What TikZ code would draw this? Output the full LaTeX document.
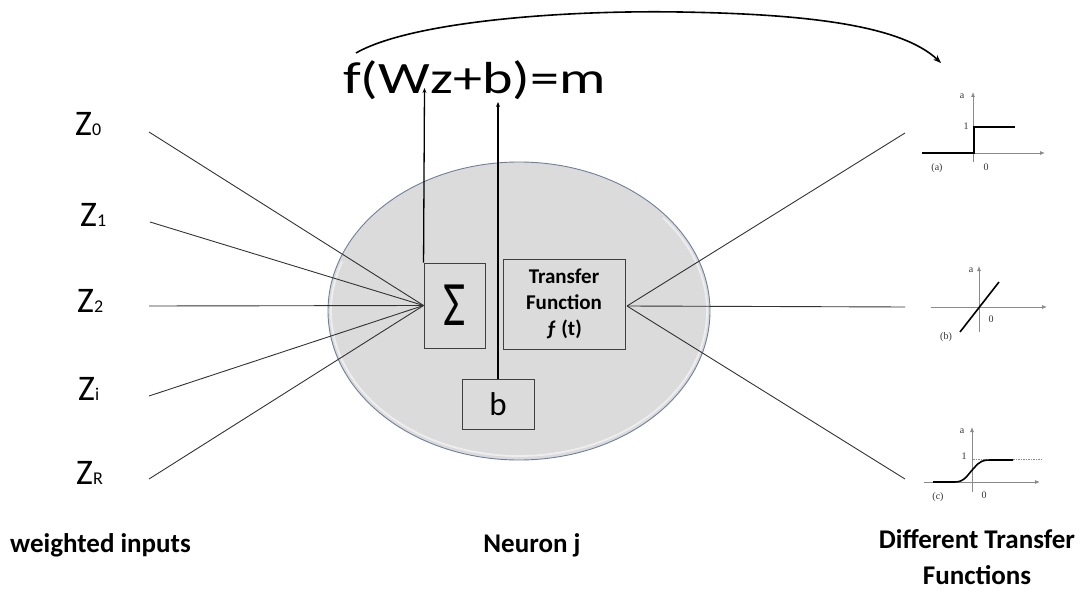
\documentclass[tikz,border=0pt]{standalone}
\usepackage{fontspec}
\usepackage{graphicx}
\setmainfont{Carlito}
\newfontfamily\grserif{Liberation Serif}
\usetikzlibrary{shapes.geometric,arrows.meta}
\definecolor{neurongray}{HTML}{DCDBDC}
\definecolor{rimblue}{HTML}{6F7F9C}
\definecolor{linegray}{HTML}{333333}
\definecolor{axisgray}{HTML}{8A8A8A}
\begin{document}
\begin{tikzpicture}[x=1pt,y=-1pt,
  inline/.style={draw=linegray, line width=0.9pt},
  boxstyle/.style={draw=black!75, line width=0.9pt, rectangle, inner sep=0pt},
  upline/.style={draw=black, line width=1.3pt, -{Stealth[length=5pt,width=4pt]}},
  zlab/.style={anchor=base west, inner sep=0pt, font=\fontsize{36}{40}\selectfont},
  botlab/.style={font=\fontsize{27}{36}\selectfont\bfseries, inner sep=0pt, align=center},
  axis/.style={draw=axisgray, line width=0.8pt, -{Latex[length=5pt,width=4pt]}, color=axisgray},
  curve/.style={draw=black, line width=1.6pt},
  glab/.style={font=\grserif\fontsize{10}{10}\selectfont, inner sep=0pt, text=black!80}
]
\useasboundingbox (0,0) rectangle (1088,591);

% neuron body
\node[ellipse, minimum width=382pt, minimum height=298pt, inner sep=0pt,
      fill=neurongray, draw=rimblue, line width=0.9pt] (neuron) at (519,311) {};
\draw[white, opacity=0.55, line width=1.8pt]
  ([shift={(519,311)}] -40:188 and 145) arc[start angle=-40, end angle=200, x radius=188, y radius=145];

% boxes
\node[boxstyle, minimum width=61pt, minimum height=85pt] (sum) at (454.5,305.5)
  {\scalebox{0.78}[1.02]{\fontsize{62}{62}\selectfont Σ}};
\node[boxstyle, minimum width=122pt, minimum height=90pt, align=center,
      font=\fontsize{21}{26}\selectfont\bfseries] (tf) at (564,304)
  {Transfer\\Function\\ƒ (t)};
\node[boxstyle, minimum width=72pt, minimum height=50pt,
      font=\fontsize{33}{33}\selectfont] (bb) at (498,404) {b};

% formula
\node[anchor=base west, inner sep=0pt] (formula) at (343,94)
  {\scalebox{1.32}[1.02]{\fontsize{44}{44}\selectfont f(Wz+b)=m}};

% input labels
\node[zlab] (z0) at (75,136) {Z{\fontsize{18}{18}\selectfont 0}};
\node[zlab] (z1) at (80,226) {Z{\fontsize{18}{18}\selectfont 1}};
\node[zlab] (z2) at (77,312) {Z{\fontsize{18}{18}\selectfont 2}};
\node[zlab] (zi) at (78,400) {Z{\fontsize{18}{18}\selectfont i}};
\node[zlab] (zr) at (76,484) {Z{\fontsize{18}{18}\selectfont R}};

% input lines
\coordinate (i0) at (149,132);
\coordinate (i1) at (150,222);
\coordinate (i2) at (149,306);
\coordinate (i3) at (149,396);
\coordinate (i4) at (149,479);
\foreach \c in {i0,i1,i2,i3,i4} \draw[inline] (\c) -- (sum.west);

% output lines
\coordinate (tfo) at (627,306);
\coordinate (o0) at (905,133);
\coordinate (o1) at (905,307);
\coordinate (o2) at (905,479);
\foreach \c in {o0,o1,o2} \draw[inline] (tfo) -- (\c);

% vertical arrows into formula
\coordinate (wzpt) at (424.5,88);
\coordinate (bpt) at (498,102);
\draw[upline] (sum.north west) -- (wzpt);
\draw[upline] (bb.north) -- (bpt);

% curved arrow
\coordinate (cstart) at (356,53);
\coordinate (cend) at (941,63);
\draw[draw=black, line width=1.6pt, -{Stealth[length=8pt,width=6pt]}]
  (cstart) .. controls (410,22) and (560,10) .. (680,12)
  .. controls (800,14) and (900,24) .. (cend);

% graph (a)
\draw[axis] (922,153) -- (1045,153);
\draw[axis] (973,162) -- (973,92);
\draw[curve] (922,153) -- (974,153) -- (974,127) -- (1015,127);
\node[glab] (ga) at (962,96) {a};
\node[glab] (g1a) at (966,126) {1};
\node[glab] (gla) at (937,168) {(a)};
\node[glab] (g0a) at (986,167) {0};

% graph (b)
\draw[axis] (931,307) -- (1047,307);
\draw[axis] (979,332) -- (979,266);
\draw[curve] (960,332) -- (999,282);
\node[glab] (gb) at (971,270) {a};
\node[glab] (g0b) at (991,319) {0};
\node[glab] (glb) at (946,337) {(b)};

% graph (c)
\draw[axis] (924,482) -- (1040,482);
\draw[axis] (972,492) -- (972,427);
\draw[draw=axisgray, line width=0.7pt, dash pattern=on 1.5pt off 1pt] (973,459) -- (1042,459);
\draw[curve] (933,482) -- (955,482) .. controls (965,482) and (968,474) .. (974,468)
  .. controls (980,461) and (983,460) .. (990,460) -- (1013,460);
\node[glab] (gc) at (962,431) {a};
\node[glab] (g1c) at (964,456) {1};
\node[glab] (glc) at (938,497) {(c)};
\node[glab] (g0c) at (984,495) {0};

% bottom labels
\node[botlab, anchor=base west] (lin) at (10,552) {weighted inputs};
\node[botlab, anchor=base] (lneu) at (532,552) {Neuron j};
\node[botlab, anchor=base] (ldiff) at (977,584) {Different Transfer\\Functions};
\end{tikzpicture}
\end{document}
